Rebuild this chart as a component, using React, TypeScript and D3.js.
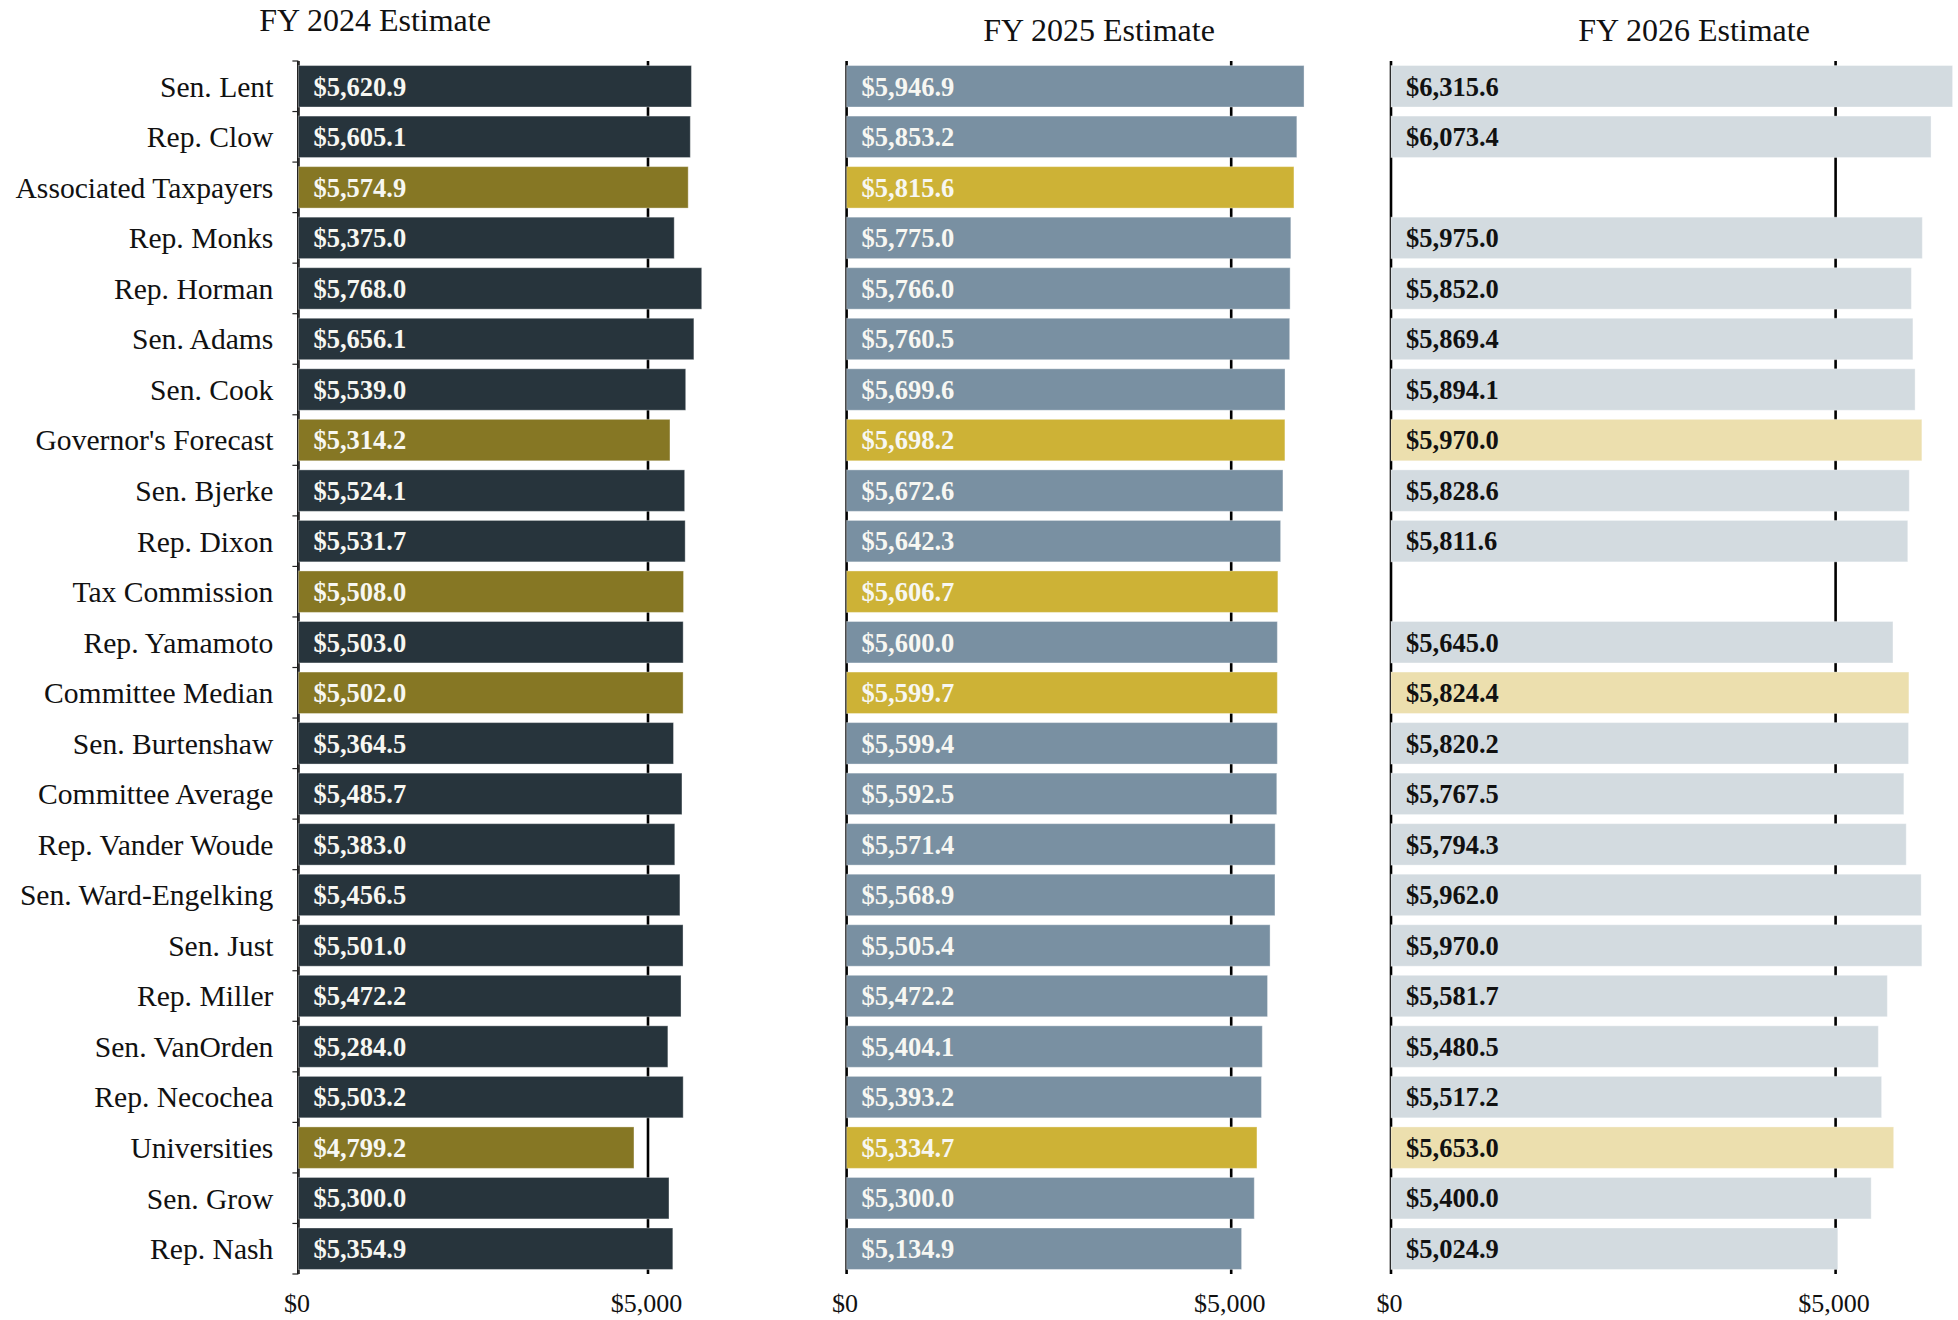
import React from "react";
import * as d3 from "d3";

const categories = [
  "Sen. Lent", "Rep. Clow", "Associated Taxpayers", "Rep. Monks", "Rep. Horman",
  "Sen. Adams", "Sen. Cook", "Governor's Forecast", "Sen. Bjerke", "Rep. Dixon",
  "Tax Commission", "Rep. Yamamoto", "Committee Median", "Sen. Burtenshaw",
  "Committee Average", "Rep. Vander Woude", "Sen. Ward-Engelking", "Sen. Just",
  "Rep. Miller", "Sen. VanOrden", "Rep. Necochea", "Universities", "Sen. Grow", "Rep. Nash",
];

const highlighted = [
  "Associated Taxpayers", "Governor's Forecast", "Tax Commission", "Committee Median", "Universities",
];

const fy2024 = [
  5620.9, 5605.1, 5574.9, 5375.0, 5768.0, 5656.1, 5539.0, 5314.2, 5524.1, 5531.7, 5508.0, 5503.0,
  5502.0, 5364.5, 5485.7, 5383.0, 5456.5, 5501.0, 5472.2, 5284.0, 5503.2, 4799.2, 5300.0, 5354.9,
];
const fy2025 = [
  5946.9, 5853.2, 5815.6, 5775.0, 5766.0, 5760.5, 5699.6, 5698.2, 5672.6, 5642.3, 5606.7, 5600.0,
  5599.7, 5599.4, 5592.5, 5571.4, 5568.9, 5505.4, 5472.2, 5404.1, 5393.2, 5334.7, 5300.0, 5134.9,
];
const fy2026: (number | null)[] = [
  6315.6, 6073.4, null, 5975.0, 5852.0, 5869.4, 5894.1, 5970.0, 5828.6, 5811.6, null, 5645.0,
  5824.4, 5820.2, 5767.5, 5794.3, 5962.0, 5970.0, 5581.7, 5480.5, 5517.2, 5653.0, 5400.0, 5024.9,
];

const titles = ["FY 2024 Estimate", "FY 2025 Estimate", "FY 2026 Estimate"];
const xTicks = [0, 5000];

const W = 1958;
const H = 1320;
const FONT = "'Liberation Serif', 'Times New Roman', serif";

const panels = [
  { values: fy2024 as (number | null)[], x0: 298.4, x5k: 648, fill: "#27343c", hi: "#867724", text: "#f7f7f2", titleX: 375, titleY: 31, yLabels: true },
  { values: fy2025 as (number | null)[], x0: 846.6, x5k: 1231.2, fill: "#7990a2", hi: "#cdb236", text: "#f7f7f2", titleX: 1099, titleY: 41, yLabels: false },
  { values: fy2026, x0: 1391, x5k: 1835.6, fill: "#d3dbe0", hi: "#ecdfae", text: "#111111", titleX: 1694, titleY: 41, yLabels: false },
];

const fmt = d3.format("$,.1f");
const tickFmt = d3.format("$,");

export default function App() {
  const yTop = 61;
  const yBot = 1274;
  const y = d3.scaleBand<string>().domain(categories).range([yTop, yBot]).paddingInner(0.18).paddingOuter(0.09);
  const step = y.step();
  const boundaries = d3.range(categories.length + 1).map((i) => yTop + i * step);

  return (
    <svg width={W} height={H} style={{ position: "absolute", left: 0, top: 0, background: "#fff" }} fontFamily={FONT}>
      {panels.map((p, pi) => {
        const x = d3.scaleLinear().domain([0, 5000]).range([p.x0, p.x5k]);
        return (
          <g key={pi}>
            <text x={p.titleX} y={p.titleY} textAnchor="middle" fontSize={32} fill="#111">
              {titles[pi]}
            </text>
            {xTicks.map((t) => (
              <line key={"g" + t} x1={x(t)} x2={x(t)} y1={yTop} y2={yBot} stroke="#000" strokeWidth={2.6} />
            ))}
            {p.yLabels && (
              <g>
                <line x1={x(0)} x2={x(0)} y1={yTop} y2={yBot} stroke="#333" strokeWidth={1} />
                {boundaries.map((b, i) => (
                  <line key={i} x1={x(0) - 6} x2={x(0)} y1={b} y2={b} stroke="#222" strokeWidth={1.2} />
                ))}
                {categories.map((c) => (
                  <text key={c} x={x(0) - 25} y={(y(c) as number) + y.bandwidth() / 2} dy="0.35em" textAnchor="end" fontSize={29.6} fill="#111">
                    {c}
                  </text>
                ))}
              </g>
            )}
            {categories.map((c, i) => {
              const v = p.values[i];
              if (v === null || v === undefined) return null;
              const isHi = highlighted.includes(c);
              const yy = y(c) as number;
              return (
                <g key={c}>
                  <rect x={x(0)} y={yy} width={x(v) - x(0)} height={y.bandwidth()} fill={isHi ? p.hi : p.fill} stroke="#ffffff" strokeOpacity={0.35} strokeWidth={1} />
                  <text x={x(0) + 15} y={yy + y.bandwidth() / 2} dy="0.35em" fontSize={26.5} fontWeight="bold" fill={p.text}>
                    {fmt(v)}
                  </text>
                </g>
              );
            })}
            {xTicks.map((t) => (
              <text key={"t" + t} x={x(t) - 1.5} y={1312} textAnchor="middle" fontSize={26} fill="#111">
                {tickFmt(t)}
              </text>
            ))}
          </g>
        );
      })}
    </svg>
  );
}
